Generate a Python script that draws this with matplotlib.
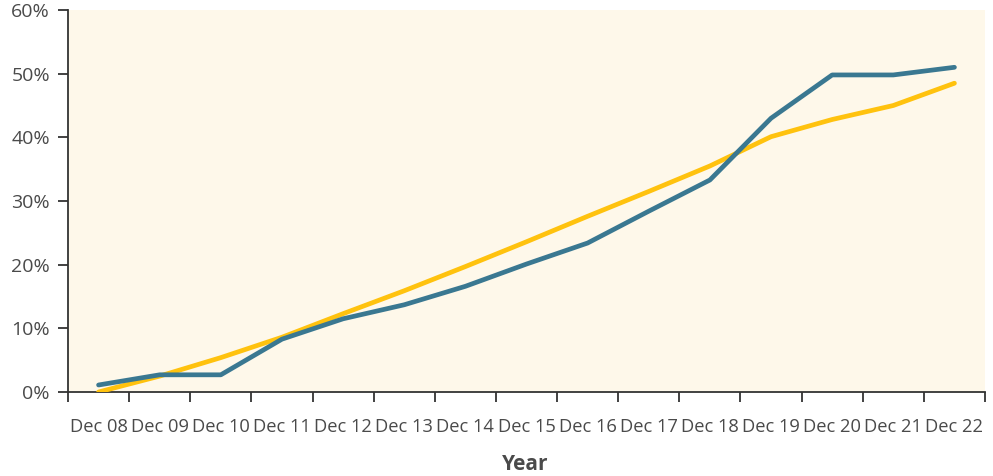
import matplotlib
matplotlib.use('Agg')
import matplotlib.pyplot as plt
import numpy as np

years = ['Dec 08', 'Dec 09', 'Dec 10', 'Dec 11', 'Dec 12', 'Dec 13', 'Dec 14', 'Dec 15',
         'Dec 16', 'Dec 17', 'Dec 18', 'Dec 19', 'Dec 20', 'Dec 21', 'Dec 22']
blue_vals = [1.1, 2.7, 2.7, 8.3, 11.5, 13.7, 16.6, 20.1, 23.4, 28.4, 33.3, 43.0, 49.8, 49.8, 51.0]
yellow_vals = [0.0, 2.5, 5.4, 8.6, 12.3, 15.9, 19.7, 23.6, 27.6, 31.5, 35.5, 40.1, 42.8, 45.0, 48.5]

plt.rcParams['font.family'] = ['Open Sans', 'DejaVu Sans']
text_col = '#4a4a4a'

fig = plt.figure(figsize=(9.93, 4.76), dpi=100)
ax = fig.add_axes([68 / 993, 84 / 476, 917 / 993, 382 / 476])
ax.set_facecolor('#fef8ea')

x = np.arange(len(years))
ax.plot(x, yellow_vals, color='#ffc20e', lw=3.4, solid_capstyle='round', zorder=3)
ax.plot(x, blue_vals, color='#3a7891', lw=3.4, solid_capstyle='round', zorder=4)

ax.set_xlim(-0.5, len(years) - 0.5)
ax.set_ylim(0, 60)
ax.set_yticks(np.arange(0, 61, 10))
ax.set_yticklabels([f'{v}%' for v in range(0, 61, 10)], fontsize=14, color=text_col)

ax.set_xticks(np.arange(-0.5, len(years), 1))
ax.set_xticklabels([])
ax.set_xticks(x, minor=True)
ax.set_xticklabels(years, minor=True, fontsize=13.2, color=text_col)
ax.tick_params(axis='x', which='major', length=7, width=1.3, color='#333333', direction='out')
ax.tick_params(axis='x', which='minor', length=0, pad=19)
ax.tick_params(axis='y', length=7, width=1.3, color='#333333', direction='out', pad=6)

for s in ['top', 'right']:
    ax.spines[s].set_visible(False)
for s in ['left', 'bottom']:
    ax.spines[s].set_color('#333333')
    ax.spines[s].set_linewidth(1.3)

fig.text(525 / 993, 1 - 465 / 476, 'Year', fontsize=15, fontweight='bold', color=text_col,
         ha='center', va='center')

fig.savefig('out.png', dpi=100)
